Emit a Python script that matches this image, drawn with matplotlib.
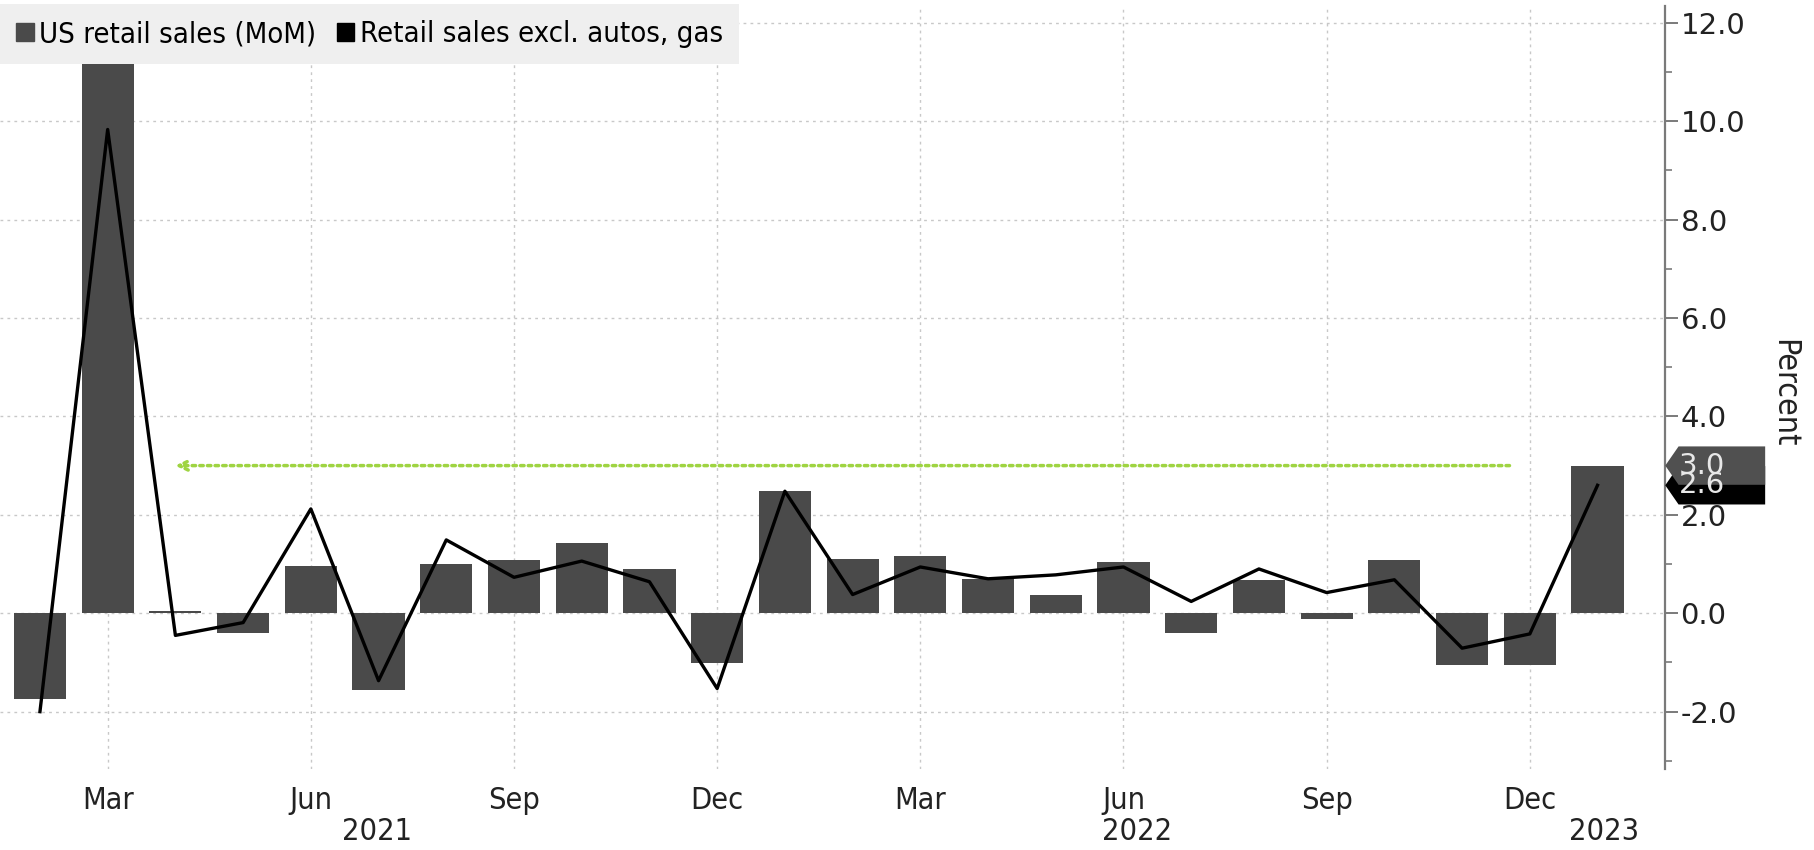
import numpy as np
import matplotlib.pyplot as plt
import matplotlib.transforms as mtransforms
from matplotlib.patches import Patch, Polygon
from matplotlib.ticker import MultipleLocator
from matplotlib.font_manager import FontProperties

# =============================================================================
# DATA (Feb 2021 .. Jan 2023)
# =============================================================================

months = ["Feb 2021", "Mar 2021", "Apr 2021", "May 2021", "Jun 2021", "Jul 2021",
          "Aug 2021", "Sep 2021", "Oct 2021", "Nov 2021", "Dec 2021", "Jan 2022",
          "Feb 2022", "Mar 2022", "Apr 2022", "May 2022", "Jun 2022", "Jul 2022",
          "Aug 2022", "Sep 2022", "Oct 2022", "Nov 2022", "Dec 2022", "Jan 2023"]

retail_mom = [-1.75, 11.2, 0.05, -0.4, 0.95, -1.55, 1.0, 1.08, 1.42, 0.9, -1.02, 2.48,
              1.1, 1.16, 0.7, 0.38, 1.04, -0.4, 0.68, -0.12, 1.08, -1.06, -1.06, 3.0]

retail_ex_autos_gas = [-2.0, 9.83, -0.45, -0.19, 2.12, -1.37, 1.49, 0.73, 1.06, 0.64,
                       -1.53, 2.48, 0.38, 0.94, 0.7, 0.78, 0.94, 0.24, 0.9, 0.42, 0.68,
                       -0.71, -0.42, 2.6]

tick_months = ["Mar 2021", "Jun 2021", "Sep 2021", "Dec 2021",
               "Mar 2022", "Jun 2022", "Sep 2022", "Dec 2022"]
tick_labels = ["Mar", "Jun", "Sep", "Dec", "Mar", "Jun", "Sep", "Dec"]
year_labels = ["2021", "2022", "2023"]
year_pos = [4.97, 16.2, 23.1]

# green reference line (latest headline print) from Apr 2021 to Dec 2022
ref_level = 3.0
ref_start, ref_end = "Apr 2021", "Dec 2022"

# =============================================================================
# STYLE
# =============================================================================

def narrow(size):
    return FontProperties(family="DejaVu Sans", stretch="condensed", size=size)

c_bar = "#4a4a4a"
c_grid = "#c8c8c8"
c_axis = "#7a7a7a"
c_txt = "#222222"

x = np.arange(len(months))
idx = {m: i for i, m in enumerate(months)}

fig = plt.figure(figsize=(18.14, 8.5), dpi=100)
ax = fig.add_axes([0.0, 0.095, 0.918, 0.898])

ax.bar(x, retail_mom, width=0.77, color=c_bar, zorder=2)
ax.plot(x, retail_ex_autos_gas, color="black", lw=2.4, zorder=3)

# green dotted arrow
ax.annotate("", xy=(idx[ref_start], ref_level), xytext=(idx[ref_end] - 0.3, ref_level),
            arrowprops=dict(arrowstyle="->", color="#9fd442", lw=2.5, ls=(0, (1, 1.2)),
                            mutation_scale=16, shrinkA=0, shrinkB=0), zorder=4)

ax.set_xlim(-0.59, 24.0)
ax.set_ylim(-3.17, 12.34)

# axes / spines
for s in ["left", "top", "bottom"]:
    ax.spines[s].set_visible(False)
ax.spines["right"].set_color(c_axis)
ax.spines["right"].set_linewidth(1.6)

ax.yaxis.tick_right()
ax.yaxis.set_minor_locator(MultipleLocator(1))
ax.set_yticks(np.arange(-2, 13, 2))
ax.set_yticklabels([f"{v:.1f}" for v in np.arange(-2, 13, 2)])
ax.tick_params(axis="y", which="major", direction="out", length=9, width=1.4,
               color=c_axis, labelsize=21, pad=2, labelcolor=c_txt)
ax.tick_params(axis="y", which="minor", direction="out", length=5, width=1.2, color=c_axis)

ax.set_xticks([idx[m] for m in tick_months])
ax.set_xticklabels(tick_labels, fontproperties=narrow(22), color=c_txt)
ax.tick_params(axis="x", length=0, pad=12)

ax.grid(True, which="major", color=c_grid, ls=(0, (2, 3)), lw=1.0, zorder=0)

# year labels under the months
trans = mtransforms.blended_transform_factory(ax.transData, fig.transFigure)
for lab, p in zip(year_labels, year_pos):
    ax.text(p, 0.005, lab, transform=trans, ha="center", va="bottom",
            fontproperties=narrow(22), color=c_txt)

# y axis title
axdata = mtransforms.blended_transform_factory(ax.transAxes, ax.transData)
ax.text(1.071, 4.47, "Percent", transform=axdata, rotation=-90, ha="center", va="center",
        fontproperties=narrow(23), color=c_txt)

# last-value tags on the right axis
h = 0.39
for val, col in [(retail_ex_autos_gas[-1], "black"), (retail_mom[-1], "#505050")]:
    pts = [(1.0, val), (1.008, val + h), (1.06, val + h), (1.06, val - h), (1.008, val - h)]
    ax.add_patch(Polygon(pts, closed=True, transform=axdata, clip_on=False,
                         facecolor=col, edgecolor="none", zorder=5))
    ax.text(1.008, val, f"{val:.1f}", transform=axdata, ha="left", va="center",
            fontsize=21, color="#e8e8e8", clip_on=False, zorder=6)

# legend
handles = [Patch(color=c_bar, label="US retail sales (MoM)"),
           Patch(color="black", label="Retail sales excl. autos, gas")]
leg = ax.legend(handles=handles, loc="upper left", bbox_to_anchor=(0.0, 0.995),
                bbox_transform=fig.transFigure, ncol=2, frameon=True, fancybox=False,
                handlelength=0.6, handleheight=0.6, handletextpad=0.2, columnspacing=0.7,
                borderpad=0.55, borderaxespad=0.0, prop=narrow(21))
leg.get_frame().set_facecolor("#efefef")
leg.get_frame().set_edgecolor("none")
leg.get_frame().set_alpha(1.0)

fig.savefig("out.png", dpi=100)
